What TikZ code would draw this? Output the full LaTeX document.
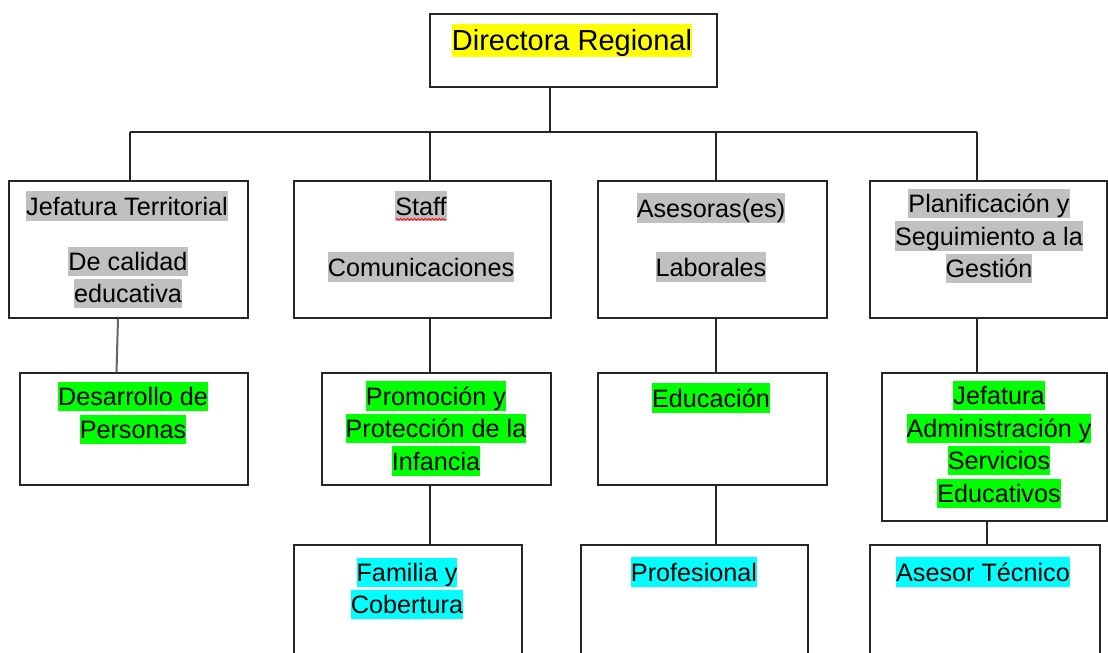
\documentclass[tikz,border=0pt]{standalone}
\usepackage{fontspec}
\setmainfont{Liberation Sans}
\usetikzlibrary{decorations.pathmorphing}
\definecolor{hlgray}{RGB}{192,192,192}
\definecolor{hlgreen}{RGB}{0,255,0}
\definecolor{hlcyan}{RGB}{0,255,255}
\definecolor{hlyellow}{RGB}{255,255,0}
\newcommand{\hlt}[2]{{\setlength{\fboxsep}{0pt}\colorbox{#1}{\rule[-0.22em]{0pt}{1.16em}#2}}}
\tikzset{
  orgbox/.style={draw=black!85, line width=1.2pt, rectangle, inner sep=0pt},
  lbl/.style={inner sep=0pt, align=center, font=\fontsize{25.2}{32.5}\selectfont},
  toplbl/.style={inner sep=0pt, align=center, font=\fontsize{29}{34}\selectfont},
  conn/.style={draw=black!85, line width=1.2pt},
  softconn/.style={draw=black!60, line width=2pt},
  wavy/.style={draw=red, line width=0.8pt, decorate, decoration={snake, amplitude=0.9pt, segment length=3.5pt}}
}
\begin{document}
\begin{tikzpicture}[x=1pt, y=-1pt]
\useasboundingbox (0,0) rectangle (1108,653);
\clip (0,0) rectangle (1108,653);
\fill[white] (0,0) rectangle (1108,653);

% boxes
\node[orgbox, minimum width=287pt, minimum height=73pt] (top) at (573.5,50.5) {};
\node[orgbox, minimum width=239pt, minimum height=137pt] (A) at (128.5,249.5) {};
\node[orgbox, minimum width=257pt, minimum height=137pt] (B) at (422.5,249.5) {};
\node[orgbox, minimum width=229pt, minimum height=137pt] (C) at (712.5,249.5) {};
\node[orgbox, minimum width=237pt, minimum height=137pt] (D) at (988.5,249.5) {};
\node[orgbox, minimum width=228pt, minimum height=112pt] (A2) at (134,429) {};
\node[orgbox, minimum width=229pt, minimum height=112pt] (B2) at (436.5,429) {};
\node[orgbox, minimum width=229pt, minimum height=112pt] (C2) at (712.5,429) {};
\node[orgbox, minimum width=225pt, minimum height=148pt] (D2) at (994.5,447) {};
\node[orgbox, minimum width=228pt, minimum height=125pt] (B3) at (408,607.5) {};
\node[orgbox, minimum width=227pt, minimum height=125pt] (C3) at (694.5,607.5) {};
\node[orgbox, minimum width=230pt, minimum height=125pt] (D3) at (985,607.5) {};

% bus coordinates
\coordinate (bj) at (550,132);
\coordinate (b1) at (130,132);
\coordinate (b2) at (430,132);
\coordinate (b3) at (716,132);
\coordinate (b4) at (977,132);
\coordinate (d23) at (987,0);

% connectors
\draw[conn] (bj |- top.south) -- (bj);
\draw[conn] (b1) -- (b4);
\draw[conn] (b1) -- (b1 |- A.north);
\draw[conn] (b2) -- (b2 |- B.north);
\draw[conn] (b3) -- (b3 |- C.north);
\draw[conn] (b4) -- (b4 |- D.north);
\draw[softconn] ([xshift=-10.5pt]A.south) -- ([xshift=-17.5pt]A2.north);
\draw[conn] (b2 |- B.south) -- (b2 |- B2.north);
\draw[conn] (b2 |- B2.south) -- (b2 |- B3.north);
\draw[conn] (b3 |- C.south) -- (b3 |- C2.north);
\draw[conn] (b3 |- C2.south) -- (b3 |- C3.north);
\draw[conn] (b4 |- D.south) -- (b4 |- D2.north);
\draw[conn] (d23 |- D2.south) -- (d23 |- D3.north);

% texts
\node[toplbl] (tDR) at (572,40.5) {\hlt{hlyellow}{Directora Regional}};

\node[lbl] (tA1) at (127,206) {\hlt{hlgray}{Jefatura Territorial}};
\node[lbl] (tA2) at (128,277.5) {\hlt{hlgray}{De calidad}\\\hlt{hlgray}{educativa}};

\node[lbl] (tStaff) at (421,206) {\hlt{hlgray}{Staff}};
\draw[wavy] ([yshift=1.5pt, xshift=1pt]tStaff.south west) -- ([yshift=1.5pt, xshift=-1pt]tStaff.south east);
\node[lbl] (tB2) at (421,267) {\hlt{hlgray}{Comunicaciones}};

\node[lbl] (tC1) at (711,208) {\hlt{hlgray}{Asesoras(es)}};
\node[lbl] (tC2) at (711,267) {\hlt{hlgray}{Laborales}};

\node[lbl] (tD) at (989,236) {\hlt{hlgray}{Planificación y}\\\hlt{hlgray}{Seguimiento a la}\\\hlt{hlgray}{Gestión}};

\node[lbl] (tA2b) at (133,413) {\hlt{hlgreen}{Desarrollo de}\\\hlt{hlgreen}{Personas}};
\node[lbl] (tB2b) at (436,428.5) {\hlt{hlgreen}{Promoción y}\\\hlt{hlgreen}{Protección de la}\\\hlt{hlgreen}{Infancia}};
\node[lbl] (tC2b) at (711,398) {\hlt{hlgreen}{Educación}};
\node[lbl] (tD2b) at (999,444.5) {\hlt{hlgreen}{Jefatura}\\\hlt{hlgreen}{Administración y}\\\hlt{hlgreen}{Servicios}\\\hlt{hlgreen}{Educativos}};

\node[lbl] (tB3) at (407,588.5) {\hlt{hlcyan}{Familia y}\\\hlt{hlcyan}{Cobertura}};
\node[lbl] (tC3) at (694,572) {\hlt{hlcyan}{Profesional}};
\node[lbl] (tD3) at (983,572) {\hlt{hlcyan}{Asesor Técnico}};
\end{tikzpicture}
\end{document}
